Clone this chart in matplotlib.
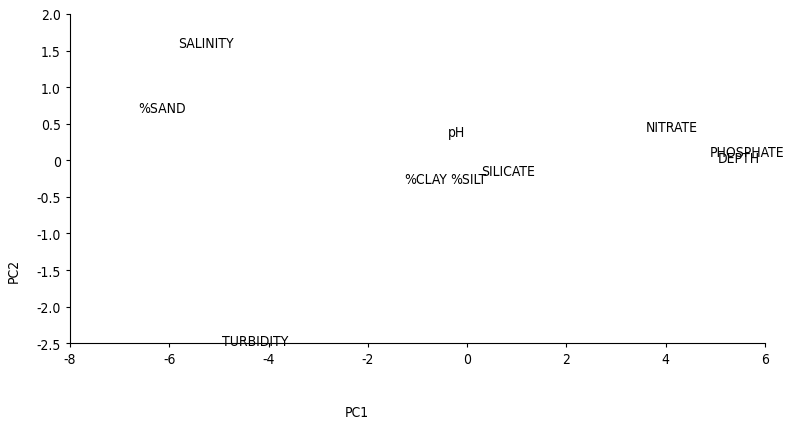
import matplotlib
matplotlib.use("Agg")
import matplotlib.pyplot as plt

plt.rcParams['font.family'] = ['Liberation Sans Narrow', 'DejaVu Sans']
plt.rcParams['font.stretch'] = 'condensed'
plt.rcParams['axes.unicode_minus'] = False

# variable loadings (PC1, PC2)
names = ["SALINITY", "%SAND", "pH", "%CLAY", "%SILT", "SILICATE",
         "NITRATE", "PHOSPHATE", "DEPTH", "TURBIDITY"]
pc1 = [-5.83, -6.62, -0.39, -1.26, -0.35, 0.28, 3.60, 4.89, 5.04, -4.94]
pc2 = [1.60, 0.72, 0.38, -0.26, -0.26, -0.15, 0.45, 0.11, 0.03, -2.47]

xticks = [-8, -6, -4, -2, 0, 2, 4, 6]
yticks = [-2.5, -2.0, -1.5, -1.0, -0.5, 0, 0.5, 1.0, 1.5, 2.0]
ylabels = ["-2.5", "-2.0", "-1.5", "-1.0", "-0.5", "0", "0.5", "1.0", "1.5", "2.0"]

fig = plt.figure(figsize=(7.89, 4.27), dpi=100)
ax = fig.add_axes([0.0887, 0.194, 0.881, 0.771])

for n, x, y in zip(names, pc1, pc2):
    ax.text(x, y, n, ha="left", va="center", fontsize=10, color="black")

ax.set_xlim(-8, 6)
ax.set_ylim(-2.5, 2.0)
ax.set_xticks(xticks)
ax.set_yticks(yticks)
ax.set_yticklabels(ylabels)
ax.tick_params(labelsize=10, length=3, width=0.8)
ax.spines["top"].set_visible(False)
ax.spines["right"].set_visible(False)

fig.text(0.452, 0.033, "PC1", ha="center", va="center", fontsize=10)
fig.text(0.018, 0.365, "PC2", ha="center", va="center", fontsize=10, rotation=90)

fig.savefig("out.png", dpi=100)
